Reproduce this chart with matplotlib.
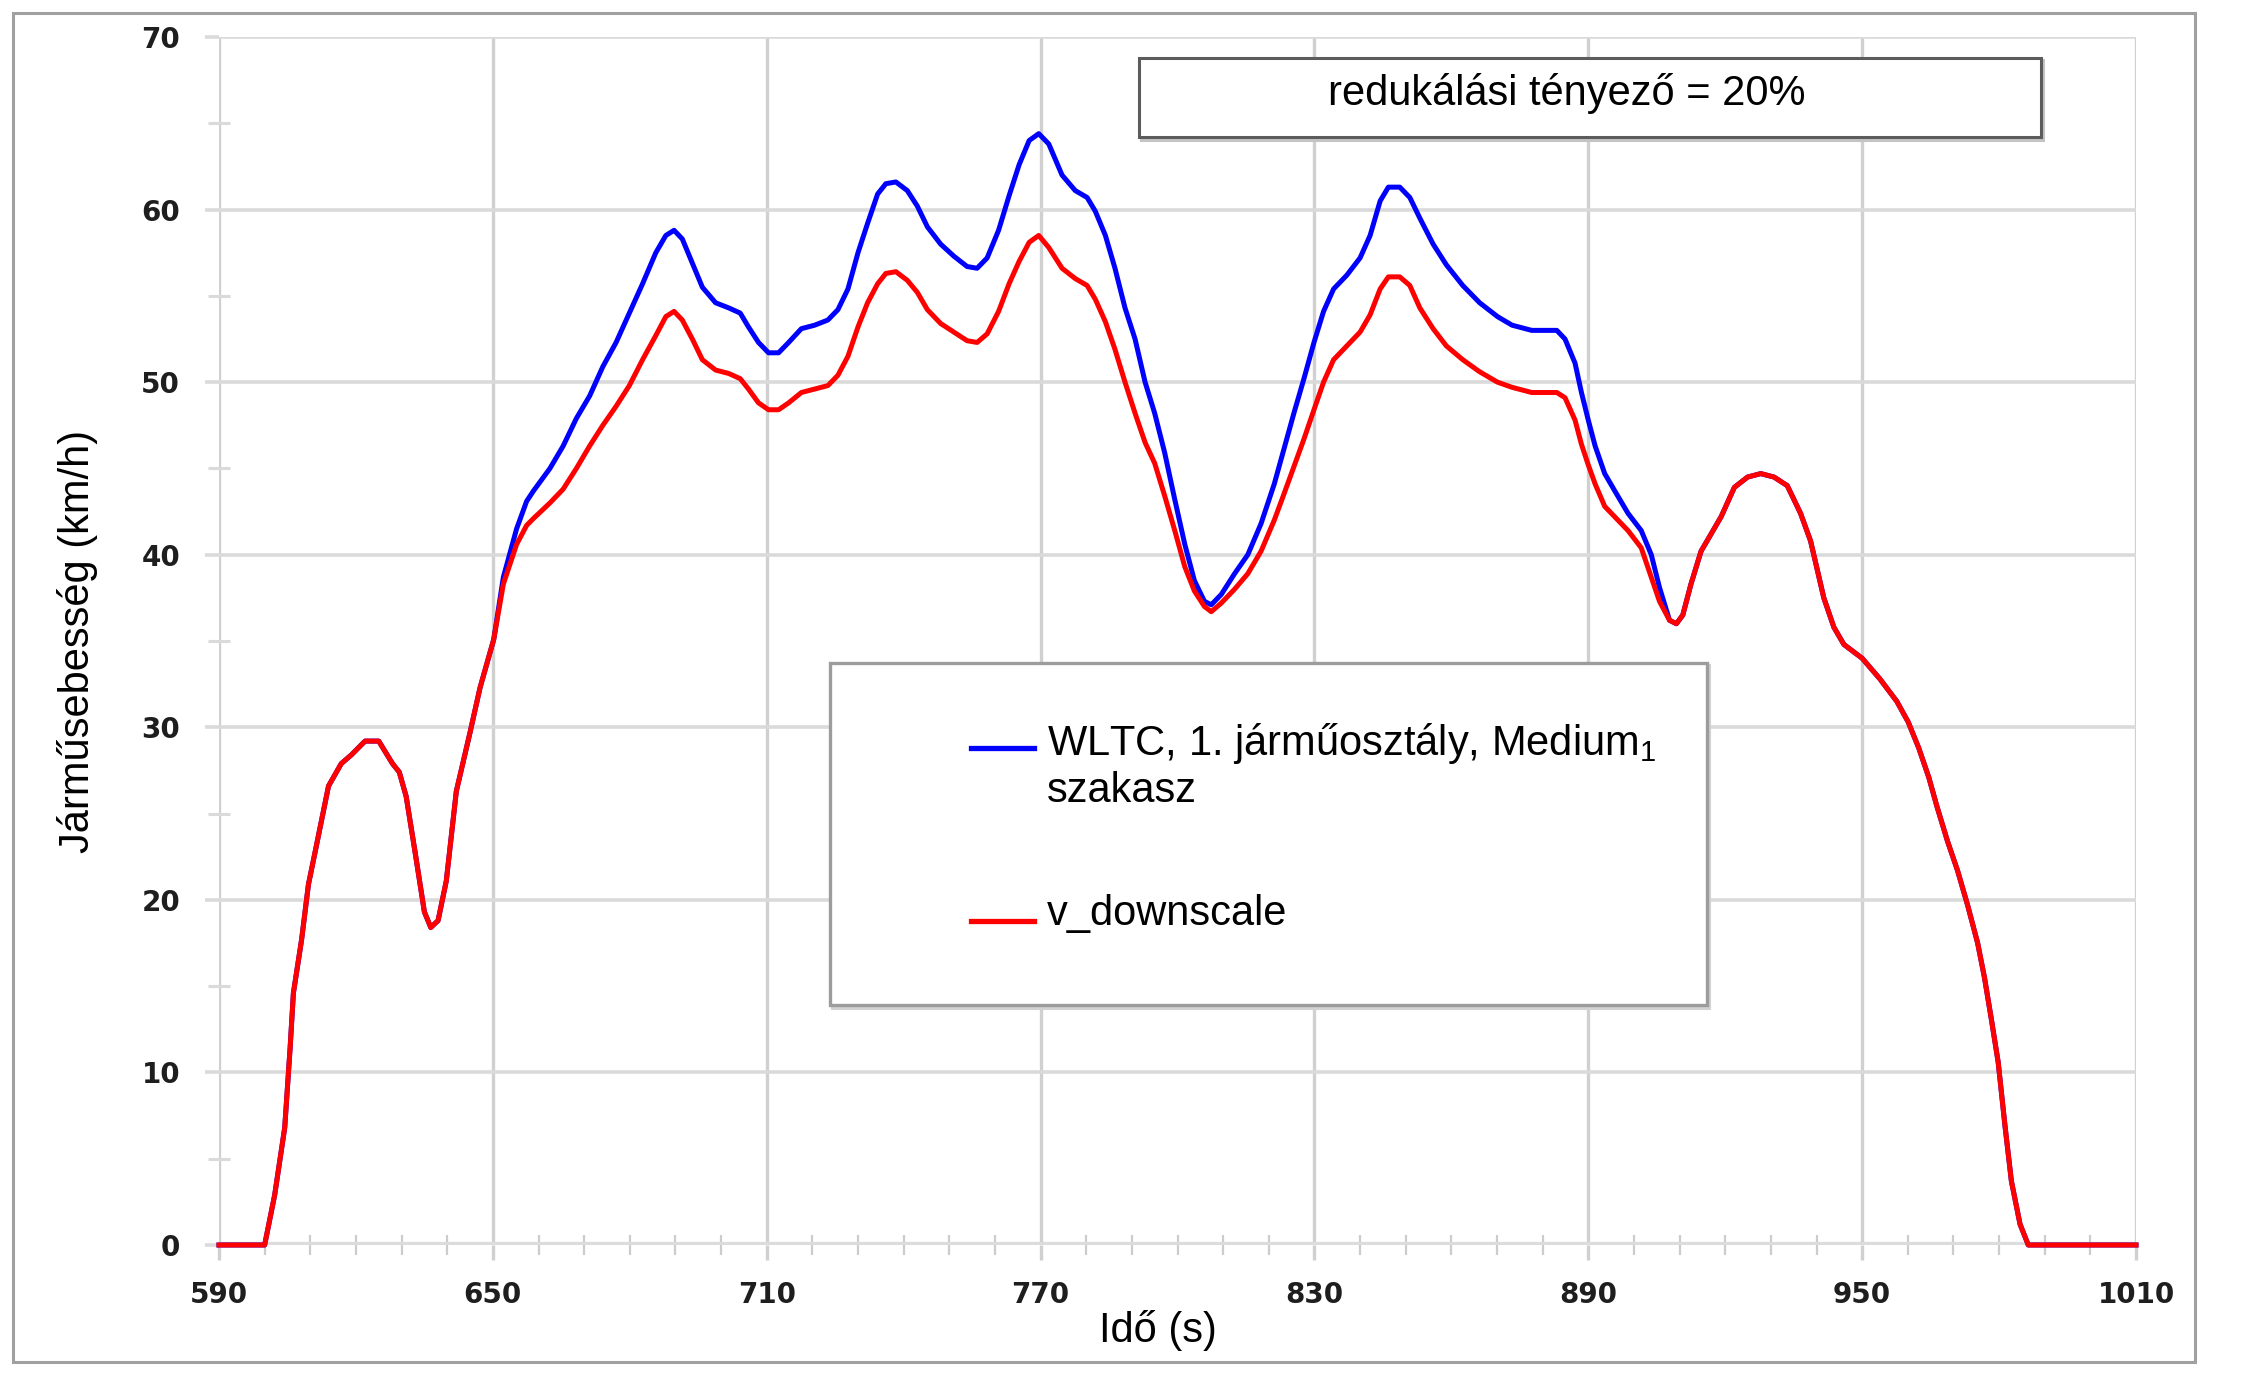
import numpy as np
import matplotlib
matplotlib.use('Agg')
from matplotlib import pyplot as plt
from matplotlib.patches import Rectangle
from matplotlib.lines import Line2D

plt.rcParams['font.family'] = ['Liberation Sans', 'DejaVu Sans']
plt.rcParams['mathtext.fontset'] = 'custom'
plt.rcParams['mathtext.rm'] = 'Liberation Sans'

# shared part before the downscaling window
time_start = [590, 600, 602.2, 604.4, 605.6, 606.3, 608.1, 609.6, 611, 614, 616.8, 619, 622, 625,
              628, 629.5, 631, 633, 635, 636.4, 638, 639.8, 642, 645, 647.2, 650.2]
speed_start = [0, 0, 2.9, 6.8, 11.5, 14.6, 17.7, 20.9, 22.7, 26.6, 27.9, 28.4, 29.2, 29.2,
               27.9, 27.4, 26.0, 22.7, 19.3, 18.4, 18.8, 21.1, 26.3, 29.7, 32.3, 35.1]

# downscaling window
time_mid = [652.3, 655.2, 657.4, 658.9, 662.5, 665.4, 668.3, 671.2, 674.1, 677.0, 679.9, 682.8,
            685.7, 687.9, 689.7, 691.5, 693.7, 695.9, 698.8, 701.7, 704.2, 706.0, 708.2, 710.4,
            712.6, 714.8, 717.6, 720.5, 723.4, 725.6, 727.8, 730.0, 732.1, 734.3, 736.1, 738.3,
            740.8, 743.0, 745.2, 748.1, 751.0, 753.9, 756.1, 758.3, 760.8,
            763.1, 765.3, 767.5, 769.6, 771.8, 774.7, 777.6, 780.2, 782.0, 784.2, 786.3, 788.5,
            790.7, 792.9, 795.0, 797.2, 799.4, 801.6, 803.7, 805.9, 807.4, 809.6, 812.5, 815.4,
            818.3, 821.2, 823.3, 825.5, 827.7, 829.9, 832.0, 834.2, 837.1, 840.0, 842.2, 844.4,
            846.2, 848.7, 850.9, 853.1, 856.0, 858.9, 862.5, 866.2, 870.1,
            873.3, 877.6, 883.1, 884.9, 887.1, 888.5, 890.0, 891.5, 893.6, 895.8, 898.7, 901.6,
            903.8, 905.6]
wltc_mid = [38.7, 41.5, 43.1, 43.7, 45.0, 46.3, 47.9, 49.2, 50.9, 52.3, 54.0, 55.7,
            57.5, 58.5, 58.8, 58.3, 56.9, 55.5, 54.6, 54.3, 54.0, 53.2, 52.3, 51.7,
            51.7, 52.3, 53.1, 53.3, 53.6, 54.2, 55.4, 57.5, 59.2, 60.9, 61.5, 61.6,
            61.1, 60.2, 59.0, 58.0, 57.3, 56.7, 56.6, 57.2, 58.8,
            60.8, 62.6, 64.0, 64.4, 63.8, 62.0, 61.1, 60.7, 59.9, 58.5, 56.6, 54.3,
            52.5, 50.0, 48.2, 45.9, 43.2, 40.6, 38.5, 37.3, 37.1, 37.7, 38.9, 40.0,
            41.8, 44.1, 46.1, 48.2, 50.2, 52.3, 54.1, 55.4, 56.2, 57.2, 58.5, 60.5,
            61.3, 61.3, 60.7, 59.5, 58.0, 56.8, 55.6, 54.6, 53.8,
            53.3, 53.0, 53.0, 52.5, 51.1, 49.4, 47.8, 46.3, 44.7, 43.7, 42.4, 41.4,
            40.0, 38.1]
down_mid = [38.3, 40.6, 41.7, 42.1, 43.0, 43.8, 45.0, 46.3, 47.5, 48.6, 49.8, 51.3,
            52.7, 53.8, 54.1, 53.6, 52.5, 51.3, 50.7, 50.5, 50.2, 49.6, 48.8, 48.4,
            48.4, 48.8, 49.4, 49.6, 49.8, 50.4, 51.5, 53.2, 54.6, 55.7, 56.3, 56.4,
            55.9, 55.2, 54.2, 53.4, 52.9, 52.4, 52.3, 52.8, 54.1,
            55.7, 57.0, 58.1, 58.5, 57.8, 56.6, 56.0, 55.6, 54.8, 53.5, 51.9, 50.0,
            48.2, 46.5, 45.3, 43.4, 41.4, 39.3, 37.9, 37.0, 36.7, 37.2, 38.0, 38.9,
            40.2, 42.0, 43.5, 45.1, 46.7, 48.4, 50.0, 51.3, 52.1, 52.9, 53.9, 55.4,
            56.1, 56.1, 55.6, 54.3, 53.1, 52.1, 51.3, 50.6, 50.0,
            49.7, 49.4, 49.4, 49.1, 47.8, 46.4, 45.2, 44.1, 42.8, 42.2, 41.4, 40.4,
            38.7, 37.3]

# shared part after the window
time_end = [907.8, 909.3, 910.7, 912.5, 914.7, 916.9, 919.1, 922.0, 924.9, 927.8, 930.7, 933.6,
            936.5, 938.7, 940.2, 941.6, 943.8, 946.0, 950.0, 953.9, 957.6, 960.1, 962.4, 964.6,
            966.4, 968.7, 970.9, 973.1, 975.3, 976.8, 978.3, 979.8, 981.3, 982.7, 984.6, 986.4,
            1010]
speed_end = [36.2, 36.0, 36.5, 38.3, 40.2, 41.2, 42.2, 43.9, 44.5, 44.7, 44.5, 44.0,
             42.4, 40.8, 39.1, 37.5, 35.8, 34.8, 34.0, 32.8, 31.5, 30.3, 28.8, 27.1,
             25.4, 23.4, 21.7, 19.7, 17.5, 15.5, 13.1, 10.6, 6.9, 3.7, 1.2, 0,
             0]

label_wltc = 'WLTC, 1. járműosztály, Medium$_\\mathregular{1}$'
label_wltc2 = 'szakasz'
label_down = 'v_downscale'
box_text = 'redukálási tényező = 20%'

t = np.concatenate([time_start, time_mid, time_end])
v_wltc = np.concatenate([speed_start, wltc_mid, speed_end])
v_down = np.concatenate([speed_start, down_mid, speed_end])

W, H = 2252, 1386


def fx(px):
    return px / W


def fy(py):
    return 1 - py / H


fig = plt.figure(figsize=(W / 100, H / 100), dpi=100)
ax = fig.add_axes([fx(219), fy(1245), fx(2136) - fx(219), fy(37) - fy(1245)])

ax.axhline(0, color='#dcdcdc', lw=4.5, zorder=1)
ax.plot(t, v_wltc, color='#0000ff', lw=3.6, zorder=3, clip_on=False, solid_joinstyle='round')
ax.plot(t, v_down, color='#ff0000', lw=3.6, zorder=4, clip_on=False, solid_joinstyle='round')

ax.set_xlim(590, 1010)
ax.set_ylim(0, 70)
ax.set_xticks(range(590, 1011, 60))
ax.set_xticks(range(600, 1010, 10), minor=True)
ax.set_yticks(range(0, 71, 10))
ax.set_yticks(range(5, 70, 10), minor=True)

ax.set_axisbelow(True)
ax.grid(True, axis='x', which='major', color='#d0d0d0', lw=2.4)
ax.grid(True, axis='y', which='major', color='#dadada', lw=2.6)
for s in ax.spines.values():
    s.set_visible(False)

ax.tick_params(axis='x', which='major', direction='out', length=11, width=2.4, color='#d0d0d0', pad=15)
ax.tick_params(axis='y', which='major', direction='out', length=10, width=2.6, color='#dadada', pad=18)
ax.tick_params(axis='x', which='minor', direction='inout', length=15, width=1.6, color='#cccccc')
ax.tick_params(axis='y', which='minor', direction='inout', length=16, width=2.2, color='#dadada')
ax.tick_params(labelsize=20, labelcolor='#1e1e1e')
for lab in ax.get_xticklabels() + ax.get_yticklabels():
    lab.set_fontfamily('DejaVu Sans')
    lab.set_fontweight('bold')

ax.set_xlabel('Idő (s)', fontsize=30)
ax.xaxis.set_label_coords(0.490, -0.0705)
ax.xaxis.label.set_va('center')
ax.set_ylabel('Járműsebesség (km/h)', fontsize=30)
ax.yaxis.set_label_coords(-0.0736, 0.5)
ax.yaxis.label.set_va('center')

# outer frame
fig.patches.append(Rectangle((fx(13), fy(1362)), fx(2195) - fx(13), fy(13) - fy(1362),
                             transform=fig.transFigure, fill=False, ec='#a0a0a0', lw=2.2))

# reduction factor box
fig.patches.append(Rectangle((fx(1141), fy(140)), fx(2043) - fx(1141), fy(60) - fy(140),
                             transform=fig.transFigure, fc='none', ec='#c4c4c4', lw=2.2, zorder=5))
fig.patches.append(Rectangle((fx(1139), fy(137)), fx(2041) - fx(1139), fy(58) - fy(137),
                             transform=fig.transFigure, fc='white', ec='#5c5c5c', lw=2.2, zorder=6))
fig.text(fx(1328), fy(105), box_text, fontsize=30, ha='left', va='baseline', zorder=7)

# legend
fig.patches.append(Rectangle((fx(832), fy(1008)), fx(1709) - fx(832), fy(665) - fy(1008),
                             transform=fig.transFigure, fc='none', ec='#d2d2d2', lw=2.2, zorder=5))
fig.patches.append(Rectangle((fx(830), fy(1005)), fx(1707) - fx(830), fy(663) - fy(1005),
                             transform=fig.transFigure, fc='white', ec='#9c9c9c', lw=2.4, zorder=6))
fig.lines.append(Line2D([fx(971), fx(1034)], [fy(748), fy(748)], transform=fig.transFigure,
                        color='#0000ff', lw=3.8, zorder=7))
fig.lines.append(Line2D([fx(971), fx(1034)], [fy(921), fy(921)], transform=fig.transFigure,
                        color='#ff0000', lw=3.8, zorder=7))
fig.text(fx(1047), fy(755), label_wltc, fontsize=30, ha='left', va='baseline', zorder=7)
fig.text(fx(1047), fy(802), label_wltc2, fontsize=30, ha='left', va='baseline', zorder=7)
fig.text(fx(1047), fy(925), label_down, fontsize=30, ha='left', va='baseline', zorder=7)

fig.savefig('out.png', dpi=100)
